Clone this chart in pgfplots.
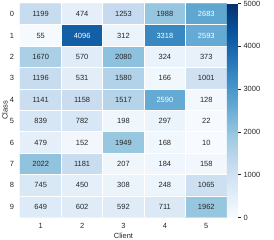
\documentclass[border=0pt]{standalone}
\usepackage{pgfplots}
\usepackage{pgfplotstable}
\pgfplotsset{compat=1.18}
\usepackage{fontspec}
\setmainfont{Liberation Sans}
\definecolor{txtdark}{RGB}{38,38,38}
\pgfplotstableread{
x y C
1 0 1199
2 0 474
3 0 1253
4 0 1988
5 0 2683
1 1 55
2 1 4096
3 1 312
4 1 3318
5 1 2593
1 2 1670
2 2 570
3 2 2080
4 2 324
5 2 373
1 3 1196
2 3 531
3 3 1580
4 3 166
5 3 1001
1 4 1141
2 4 1158
3 4 1517
4 4 2590
5 4 128
1 5 839
2 5 782
3 5 198
4 5 297
5 5 22
1 6 479
2 6 152
3 6 1949
4 6 168
5 6 10
1 7 2022
2 7 1181
3 7 207
4 7 184
5 7 158
1 8 745
2 8 450
3 8 308
4 8 248
5 8 1065
1 9 649
2 9 602
3 9 592
4 9 711
5 9 1962
}\datatable
\pgfplotstableread{
x y C
1 0 1199
2 0 474
3 0 1253
4 0 1988
1 1 55
3 1 312
1 2 1670
2 2 570
3 2 2080
4 2 324
5 2 373
1 3 1196
2 3 531
3 3 1580
4 3 166
5 3 1001
1 4 1141
2 4 1158
3 4 1517
5 4 128
1 5 839
2 5 782
3 5 198
4 5 297
5 5 22
1 6 479
2 6 152
3 6 1949
4 6 168
5 6 10
1 7 2022
2 7 1181
3 7 207
4 7 184
5 7 158
1 8 745
2 8 450
3 8 308
4 8 248
5 8 1065
1 9 649
2 9 602
3 9 592
4 9 711
5 9 1962
}\darklabels
\pgfplotstableread{
x y C
5 0 2683
2 1 4096
4 1 3318
5 1 2593
4 4 2590
}\whitelabels
\begin{document}
\begin{tikzpicture}
\begin{axis}[
  at={(0,0)}, anchor=south west,
  scale only axis, width=207pt, height=214pt,
  xmin=0.5, xmax=5.5, ymin=-0.5, ymax=9.5, y dir=reverse,
  enlargelimits=false,
  axis line style={draw=none},
  tick style={draw=none},
  xtick={1,...,5}, ytick={0,...,9},
  minor xtick={1.5,2.5,3.5,4.5}, minor ytick={0.5,1.5,...,8.5},
  minor grid style={white, line width=0.8pt},
  xminorgrids=true, yminorgrids=true,
  axis on top,
  tick label style={font=\fontsize{7.5}{8}\selectfont, text=txtdark},
  xticklabel style={anchor=center, yshift=-8pt},
  yticklabel style={anchor=center, xshift=-8pt},
  xtick pos=bottom, ytick pos=left,
  label style={font=\fontsize{7.5}{8}\selectfont, text=txtdark},
  xlabel={Client}, ylabel={Class},
  xlabel style={at={(axis description cs:0.5,-0.084)}, anchor=center},
  ylabel style={at={(axis description cs:-0.073,0.5)}, anchor=center},
  /pgf/number format/assume math mode=true,
  colormap={blues}{rgb255=(247,251,255) rgb255=(222,235,247) rgb255=(198,219,239) rgb255=(158,202,225) rgb255=(107,174,214) rgb255=(66,146,198) rgb255=(33,113,181) rgb255=(8,81,156) rgb255=(8,48,107)},
  point meta min=0, point meta max=5000,
  colorbar,
  colorbar style={
    width=11pt, at={(1,1)}, anchor=north west, xshift=12pt,
    axis x line=none, axis y line*=right,
    ytick={0,1000,2000,3000,4000,5000},
    yticklabels={0,1000,2000,3000,4000,5000},
    axis line style={draw=none},
    tick align=outside, major tick length=3pt,
    ytick style={draw=txtdark, line width=0.5pt},
    yticklabel style={font=\fontsize{7.5}{8}\selectfont, text=txtdark, xshift=-1pt},
    /pgf/number format/assume math mode=true,
  },
]
\addplot[matrix plot*, mesh/cols=5, point meta=explicit] table[meta=C] {\datatable};
\addplot[draw=none, mark=none, nodes near coords, point meta=explicit symbolic,
  nodes near coords align=center,
  every node near coord/.append style={font=\fontsize{7.5}{8}\selectfont, text=txtdark, anchor=center}]
  table[meta=C] {\darklabels};
\addplot[draw=none, mark=none, nodes near coords, point meta=explicit symbolic,
  nodes near coords align=center,
  every node near coord/.append style={font=\fontsize{7.5}{8}\selectfont, text=white, anchor=center}]
  table[meta=C] {\whitelabels};
\end{axis}
\pgfresetboundingbox
\useasboundingbox (-20pt,-22.5pt) rectangle (254pt,217.5pt);
\end{tikzpicture}
\end{document}
